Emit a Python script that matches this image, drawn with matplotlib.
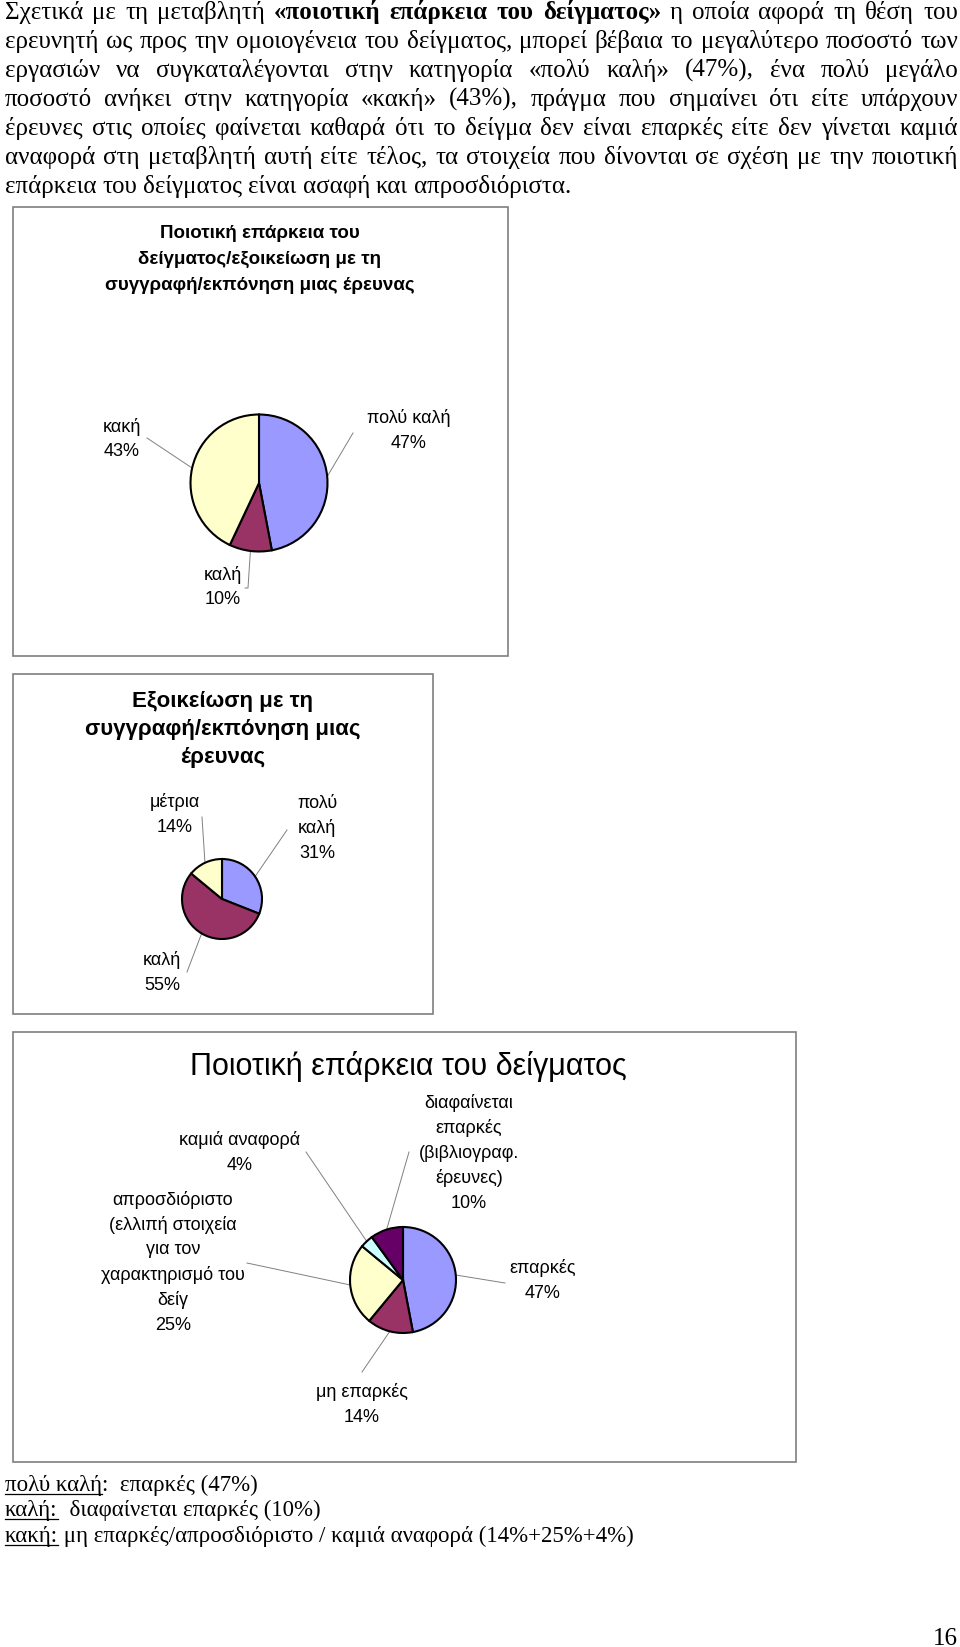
import unicodedata
import numpy as np
import matplotlib
matplotlib.use('Agg')
import matplotlib.pyplot as plt
from matplotlib.patches import Rectangle

W, H = 960, 1647

# --- data ---
quality_cats = ['πολύ καλή', 'καλή', 'κακή']
quality_vals = [47, 10, 43]

familiar_cats = ['πολύ\nκαλή', 'καλή', 'μέτρια']
familiar_vals = [31, 55, 14]

sample_cats = ['επαρκές', 'μη επαρκές',
               'απροσδιόριστο\n(ελλιπή στοιχεία\nγια τον\nχαρακτηρισμό του\nδείγ',
               'καμιά αναφορά', 'διαφαίνεται\nεπαρκές\n(βιβλιογραφ.\nέρευνες)']
sample_vals = [47, 14, 25, 4, 10]

pie_colors = ['#9999FF', '#993366', '#FFFFCC', '#CCFFFF', '#660066']

paragraph = [
    'Σχετικά με τη μεταβλητή «ποιοτική επάρκεια του δείγματος» η οποία αφορά τη θέση του',
    'ερευνητή ως προς την ομοιογένεια του δείγματος, μπορεί βέβαια το μεγαλύτερο ποσοστό των',
    'εργασιών να συγκαταλέγονται στην κατηγορία «πολύ καλή» (47%), ένα πολύ μεγάλο',
    'ποσοστό ανήκει στην κατηγορία «κακή» (43%), πράγμα που σημαίνει ότι είτε υπάρχουν',
    'έρευνες στις οποίες φαίνεται καθαρά ότι το δείγμα δεν είναι επαρκές είτε δεν γίνεται καμιά',
    'αναφορά στη μεταβλητή αυτή είτε τέλος, τα στοιχεία που δίνονται σε σχέση με την ποιοτική',
    'επάρκεια του δείγματος είναι ασαφή και απροσδιόριστα.',
]
bold_words = {0: [4, 5, 6, 7]}

footer = [
    [('πολύ καλή', True), (':  επαρκές (47%)', False)],
    [('καλή:', True), ('  διαφαίνεται επαρκές (10%)', False)],
    [('κακή:', True), (' μη επαρκές/απροσδιόριστο / καμιά αναφορά (14%+25%+4%)', False)],
]
page_no = '16'

SERIF = ['Liberation Serif', 'DejaVu Serif']
SANS = ['Liberation Sans', 'DejaVu Sans']


def nfc(s):
    return unicodedata.normalize('NFC', s)


fig = plt.figure(figsize=(W / 100, H / 100), dpi=100)
fig.patch.set_facecolor('white')
ov = fig.add_axes([0, 0, 1, 1])
ov.set_xlim(0, W)
ov.set_ylim(H, 0)
ov.axis('off')
renderer = fig.canvas.get_renderer()


def width_of(t):
    return t.get_window_extent(renderer).width


# --- justified paragraph ---
x_left, x_right = 5, 958
base0, step = 19, 29
for i, line in enumerate(paragraph):
    y = base0 + i * step
    words = nfc(line).split(' ')
    bolds = [j in bold_words.get(i, []) for j in range(len(words))]
    texts = []
    for w, b in zip(words, bolds):
        texts.append(ov.text(0, y, w, fontsize=18, family=SERIF,
                             weight='bold' if b else 'normal', va='baseline', ha='left'))
    widths = [width_of(t) for t in texts]
    if i < len(paragraph) - 1:
        gap = (x_right - x_left - sum(widths)) / (len(words) - 1)
    else:
        gap = 6
    x = x_left
    for t, w in zip(texts, widths):
        t.set_x(x)
        x += w + gap

# --- footer with underlines ---
foot_base = [1491, 1516, 1542]
for y, segs in zip(foot_base, footer):
    x = 5
    for txt, ul in segs:
        t = ov.text(x, y, nfc(txt), fontsize=16.5, family=SERIF, va='baseline', ha='left')
        w = width_of(t)
        if ul:
            ov.plot([x, x + w], [y + 3, y + 3], color='black', lw=0.9)
        x += w

ov.text(958, 1645, page_no, fontsize=18, family=SERIF, ha='right', va='baseline')

# --- chart boxes ---
boxes = [(13, 207, 508, 656), (13, 674, 433, 1014), (13, 1032, 796, 1462)]
for x0, y0, x1, y1 in boxes:
    ov.add_patch(Rectangle((x0, y0), x1 - x0, y1 - y0, facecolor='white',
                           edgecolor='#7f7f7f', lw=1.2))


def draw_pie(cx, cy, r, vals):
    ax = fig.add_axes([(cx - r) / W, 1 - (cy + r) / H, 2 * r / W, 2 * r / H])
    wedges, _ = ax.pie(vals, colors=pie_colors[:len(vals)], startangle=90,
                       counterclock=False, radius=1,
                       wedgeprops=dict(edgecolor='black', linewidth=1.5))
    for wdg in wedges:
        wdg.set_clip_on(False)
    ax.set_xlim(-1, 1)
    ax.set_ylim(-1, 1)
    ax.axis('off')


def edge_point(cx, cy, r, vals, i):
    tot = float(sum(vals))
    mid = (sum(vals[:i]) + vals[i] / 2.0) / tot * 2 * np.pi
    return cx + r * np.sin(mid), cy - r * np.cos(mid)


def draw_labels(cx, cy, r, cats, vals, label_pos, leader_ends, size=13, lstep=25):
    tot = float(sum(vals))
    for i, (cat, v) in enumerate(zip(cats, vals)):
        ex, ey = edge_point(cx, cy, r, vals, i)
        pts = [(ex, ey)] + leader_ends[i]
        ov.plot([p[0] for p in pts], [p[1] for p in pts], color='#808080', lw=0.7)
        lines = nfc(cat).split('\n') + ['%d%%' % round(v / tot * 100)]
        lx, ly = label_pos[i]
        for k, ln in enumerate(lines):
            ov.text(lx, ly + k * lstep, ln, fontsize=size, family=SANS,
                    ha='center', va='center')


# chart 1
for k, ln in enumerate(['Ποιοτική επάρκεια του', 'δείγματος/εξοικείωση με τη',
                        'συγγραφή/εκπόνηση μιας έρευνας']):
    ov.text(260, 233 + k * 26, nfc(ln), fontsize=13.5, family=SANS, weight='bold',
            ha='center', va='center')
draw_pie(259, 483, 68.5, quality_vals)
draw_labels(259, 483, 68.5, quality_cats, quality_vals,
            [(409, 418), (223, 575), (122, 427)],
            [[(353, 433)], [(248, 588), (245, 588)], [(147, 438)]])

# chart 2
for k, ln in enumerate(['Εξοικείωση με τη', 'συγγραφή/εκπόνηση μιας', 'έρευνας']):
    ov.text(223, 702 + k * 28, nfc(ln), fontsize=16, family=SANS, weight='bold',
            ha='center', va='center')
draw_pie(222, 899, 40, familiar_vals)
draw_labels(222, 899, 40, familiar_cats, familiar_vals,
            [(317, 803), (162, 960), (175, 802)],
            [[(287, 830)], [(187, 972)], [(202, 817)]])

# chart 3
ov.text(408, 1066, nfc('Ποιοτική επάρκεια του δείγματος'), fontsize=22, family=SANS,
        ha='center', va='center')
draw_pie(403, 1280, 53, sample_vals)
draw_labels(403, 1280, 53, sample_cats, sample_vals,
            [(543, 1268), (362, 1392), (173, 1200), (240, 1140), (469, 1103)],
            [[(505, 1283)], [(362, 1372)], [(247, 1263)], [(306, 1152)], [(409, 1152)]])

fig.savefig('out.png', dpi=100, facecolor='white')
